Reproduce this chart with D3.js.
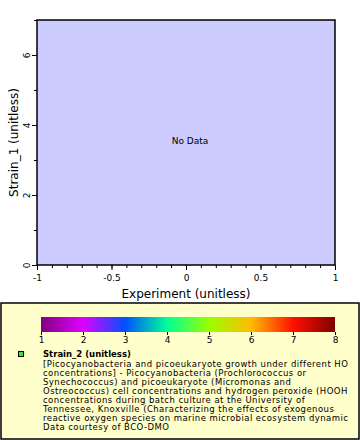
<!DOCTYPE html>
<html>
<head>
<meta charset="utf-8">
<script src="https://cdn.jsdelivr.net/npm/d3@7"></script>
<style>
  body { margin: 0; background: #fff; }
  svg { display: block; font-family: "DejaVu Sans", sans-serif; }
</style>
</head>
<body>
<script>
// axis ranges and tick values
var xDomain = [-1, 1];
var yDomain = [0, 7];
var xMajor = [-1, -0.5, 0, 0.5, 1];
var xMinor = d3.range(-1, 1.0001, 0.1);
var yMajor = [0, 2, 4, 6];
var yMinor = [1, 3, 5, 7];

// colour bar
var cbTicks = [1, 2, 3, 4, 5, 6, 7, 8];
var cbStops = [1, 2, 3, 4, 5, 6, 7, 8];
var cbColors = ['#800080', '#e000ff', '#0050ff', '#00ff99', '#99ff00', '#ffbb00', '#ff1100', '#800000'];

var legendTitle = 'Strain_2 (unitless)';
var legendLines = [
  '[Picocyanobacteria and picoeukaryote growth under different HO',
  'concentrations] - Picocyanobacteria (Prochlorococcus or',
  'Synechococcus) and picoeukaryote (Micromonas and',
  'Ostreococcus) cell concentrations and hydrogen peroxide (HOOH',
  'concentrations during batch culture at the University of',
  'Tennessee, Knoxville (Characterizing the effects of exogenous',
  'reactive oxygen species on marine microbial ecosystem dynamic',
  'Data courtesy of BCO-DMO'
];

var W = 360, H = 440;
var svg = d3.select('body').append('svg')
    .attr('width', W)
    .attr('height', H);

var pLeft = 37, pRight = 335, pTop = 20, pBottom = 265;

var x = d3.scaleLinear().domain(xDomain).range([pLeft, pRight]);
var y = d3.scaleLinear().domain(yDomain).range([pBottom, pTop]);

// plot background
svg.append('rect')
    .attr('x', pLeft).attr('y', pTop)
    .attr('width', pRight - pLeft).attr('height', pBottom - pTop)
    .attr('fill', '#ccccff');

svg.append('text')
    .attr('x', x(0) + 4).attr('y', y(3.5) + 1)
    .attr('text-anchor', 'middle')
    .attr('font-size', 9)
    .text('No Data');

// x axis
svg.append('g').attr('transform', 'translate(0,' + pBottom + ')')
  .call(d3.axisBottom(x).tickValues(xMinor).tickSize(3).tickFormat(''))
  .call(function(g) { g.select('.domain').remove(); });
svg.append('g').attr('transform', 'translate(0,' + pBottom + ')')
  .call(d3.axisBottom(x).tickValues(xMajor).tickSize(5)
    .tickFormat(function(d) { return String(d); }))
  .call(function(g) {
    g.select('.domain').remove();
    g.selectAll('text').attr('font-size', 9).attr('font-family', 'DejaVu Sans').attr('dy', '0.9em');
  });

// y axis
svg.append('g').attr('transform', 'translate(' + pLeft + ',0)')
  .call(d3.axisLeft(y).tickValues(yMinor).tickSize(3).tickFormat(''))
  .call(function(g) { g.select('.domain').remove(); });
svg.append('g').attr('transform', 'translate(' + pLeft + ',0)')
  .call(d3.axisLeft(y).tickValues(yMajor).tickSize(5)
    .tickFormat(function(d) { return String(d); }))
  .call(function(g) {
    g.select('.domain').remove();
    g.selectAll('text')
      .attr('font-size', 9).attr('font-family', 'DejaVu Sans')
      .attr('x', null).attr('dy', null)
      .attr('text-anchor', 'middle')
      .attr('transform', 'translate(-7,0) rotate(-90)');
  });

svg.selectAll('.tick line').attr('stroke', '#000');

// frame
svg.append('path')
    .attr('d', 'M' + pLeft + ',' + pTop + 'H' + pRight + 'V' + pBottom + 'H' + pLeft + 'Z')
    .attr('fill', 'none').attr('stroke', '#000').attr('stroke-width', 1.5);

// axis titles
svg.append('text')
    .attr('x', x(0)).attr('y', 298)
    .attr('text-anchor', 'middle')
    .attr('font-size', 12)
    .text('Experiment (unitless)');
svg.append('text')
    .attr('transform', 'translate(18,' + y(3.5) + ') rotate(-90)')
    .attr('text-anchor', 'middle')
    .attr('font-size', 12)
    .text('Strain_1 (unitless)');

// legend box
svg.append('rect')
    .attr('x', 1).attr('y', 303)
    .attr('width', 358).attr('height', 136)
    .attr('fill', '#ffffcc').attr('stroke', '#000').attr('stroke-width', 1.5);

// colour bar
var cb = d3.scaleLinear().domain([1, 8]).range([41, 335]);
var grad = svg.append('defs').append('linearGradient')
    .attr('id', 'cbar').attr('x1', '0%').attr('x2', '100%');
grad.selectAll('stop').data(cbStops).enter().append('stop')
    .attr('offset', function(d) { return ((d - 1) / 7 * 100) + '%'; })
    .attr('stop-color', function(d, i) { return cbColors[i]; });
svg.append('rect')
    .attr('x', cb(1)).attr('y', 317)
    .attr('width', cb(8) - cb(1)).attr('height', 15)
    .attr('fill', 'url(#cbar)');
svg.append('g').attr('transform', 'translate(0,332)')
  .call(d3.axisBottom(cb).tickValues(cbTicks).tickSize(3).tickFormat(d3.format('d')))
  .call(function(g) {
    g.select('.domain').remove();
    g.selectAll('text').attr('font-size', 9).attr('font-family', 'DejaVu Sans').attr('dy', '0.55em');
    g.selectAll('line').attr('stroke', '#000');
  });

// legend entry
svg.append('rect')
    .attr('x', 18.5).attr('y', 351.5)
    .attr('width', 5).attr('height', 5)
    .attr('fill', '#44dd44').attr('stroke', '#000').attr('stroke-width', 1);
svg.append('text')
    .attr('x', 43).attr('y', 357)
    .attr('font-size', 8.5).attr('font-weight', 'bold')
    .text(legendTitle);
svg.append('g').selectAll('text').data(legendLines).enter().append('text')
    .attr('x', 43)
    .attr('y', function(d, i) { return 367 + i * 9; })
    .attr('font-size', 8.5)
    .attr('letter-spacing', 0.45)
    .text(function(d) { return d; });
</script>
</body>
</html>
